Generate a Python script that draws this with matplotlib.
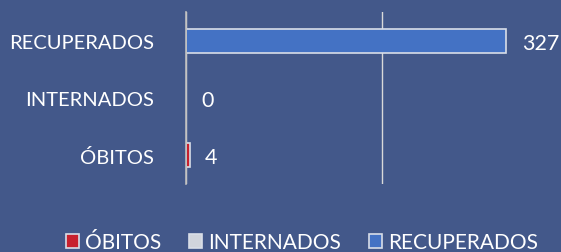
import matplotlib.pyplot as plt
from matplotlib.patches import Patch

categories = ['ÓBITOS', 'INTERNADOS', 'RECUPERADOS']
values = [4, 0, 327]
colors = ['#C8202E', '#D0D4DC', '#4472C4']
edge = '#D9DEE8'
bg = '#43588A'

plt.rcParams['font.family'] = ['Lato', 'DejaVu Sans']

fig = plt.figure(figsize=(5.61, 2.53), dpi=100, facecolor=bg)
# plot area runs past the right edge of the picture, as in the reference
ax = fig.add_axes([186 / 561, 1 - 185 / 253, 392 / 561, 172 / 253], facecolor=bg)

y = list(range(len(categories)))
ax.barh(y, values, height=0.42, color=colors, edgecolor=edge, linewidth=1.2, zorder=3)

for yi, v in zip(y, values):
    ax.annotate(str(v), (v, yi), xytext=(11, -1.5), textcoords='offset points',
                ha='left', va='center', color='white', fontsize=15.5)

ax.set_xlim(0, 400)
ax.set_ylim(-0.5, 2.5)
ax.set_xticks([0, 200])
ax.xaxis.grid(True, color='#D9D9D9', linewidth=1, zorder=0)
ax.tick_params(axis='x', length=0, labelbottom=False)
ax.set_yticks(y)
ax.set_yticklabels(categories, color='white', fontsize=14.5)
ax.tick_params(axis='y', length=0, pad=23)
for s in ['top', 'right', 'bottom']:
    ax.spines[s].set_visible(False)
ax.spines['left'].set_color('#BFBFBF')
ax.spines['left'].set_linewidth(1.2)
ax.spines['left'].set_zorder(4)

handles = [Patch(facecolor=c, edgecolor=edge, linewidth=1.2) for c in colors]
leg = fig.legend(handles, categories, loc='center', bbox_to_anchor=(302 / 561, 1 - 243 / 253),
                 ncol=3, frameon=False, fontsize=15, handlelength=0.65, handleheight=0.65,
                 handletextpad=0.3, columnspacing=1.3, labelcolor='white')

fig.savefig('out.png', dpi=100, facecolor=bg)
